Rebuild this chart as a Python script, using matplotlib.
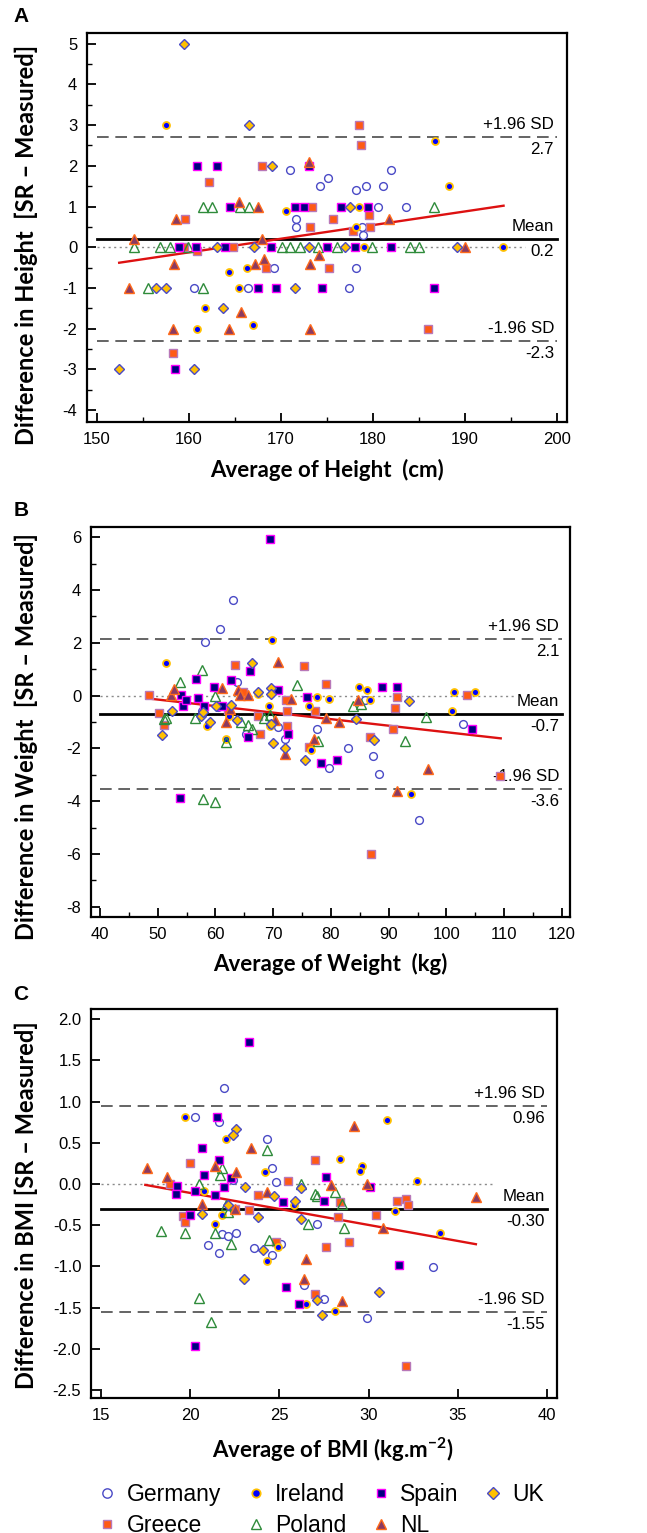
import matplotlib
matplotlib.use('Agg')
import matplotlib.pyplot as plt
import numpy as np
from matplotlib.lines import Line2D

plt.rcParams['font.family'] = ['Liberation Sans', 'DejaVu Sans']
plt.rcParams['mathtext.fontset'] = 'custom'
plt.rcParams['mathtext.rm'] = 'Lato:bold'
plt.rcParams['mathtext.bf'] = 'Lato:bold'

# Panel A : height (avg, diff)
germany_A = [(171.0, 1.9), (174.2, 1.5), (175.1, 1.7), (178.2, 1.4), (179.2, 1.5), (181.1, 1.5), (182.0, 1.9),
             (171.6, 0.7), (171.6, 0.5), (178.8, 0.5), (178.9, 0.3), (180.5, 1.0), (183.6, 1.0), (169.2, -0.5),
             (178.2, -0.5), (166.4, -1.0), (160.5, -1.0), (177.4, -1.0)]
greece_A = [(178.5, 3.0), (178.7, 2.5), (167.9, 2.0), (162.2, 1.6), (159.6, 0.7), (173.4, 1.0), (175.6, 0.7),
            (173.2, 0.5), (179.6, 0.8), (179.7, 0.5), (177.8, 0.4), (164.8, 0.0), (160.9, -0.1), (159.4, 0.0),
            (168.4, -0.5), (175.2, -0.5), (158.3, -2.6), (186.0, -2.0)]
ireland_A = [(157.5, 3.0), (186.7, 2.6), (188.3, 1.5), (170.5, 0.9), (178.5, 1.0), (178.2, 0.5), (179.0, 0.0),
             (194.1, 0.0), (164.3, -0.6), (166.3, -0.5), (165.4, -1.0), (161.7, -1.5), (160.9, -2.0), (166.9, -1.9)]
poland_A = [(161.5, 1.0), (162.5, 1.0), (165.5, 1.0), (166.5, 1.0), (186.6, 1.0), (154.0, 0.0), (156.8, 0.0),
            (157.9, 0.0), (159.9, 0.0), (170.1, 0.0), (171.0, 0.0), (172.1, 0.0), (174.0, 0.0), (176.1, 0.0),
            (179.9, 0.0), (184.0, 0.0), (185.0, 0.0), (155.5, -1.0), (161.5, -1.0)]
spain_A = [(160.9, 2.0), (163.0, 2.0), (173.0, 2.0), (164.5, 1.0), (171.5, 1.0), (172.5, 1.0), (176.5, 1.0),
           (179.5, 1.0), (158.9, 0.0), (160.8, 0.0), (163.9, 0.0), (168.9, 0.0), (175.0, 0.0), (178.0, 0.0),
           (182.0, 0.0), (158.5, -3.0), (167.5, -1.0), (169.5, -1.0), (174.5, -1.0), (186.6, -1.0)]
nl_A = [(158.6, 0.7), (165.4, 1.1), (167.5, 1.0), (173.0, 2.1), (167.9, 0.2), (154.0, 0.2), (181.7, 0.7),
        (190.0, 0.0), (158.4, -0.4), (167.2, -0.4), (168.1, -0.3), (173.2, -0.4), (174.1, -0.2), (153.5, -1.0),
        (165.7, -1.6), (158.3, -2.0), (164.3, -2.0), (173.2, -2.0)]
uk_A = [(159.5, 5.0), (166.5, 3.0), (169.0, 2.0), (177.5, 1.0), (163.0, 0.0), (167.1, 0.0), (173.0, 0.0),
        (177.0, 0.0), (189.1, 0.0), (156.4, -1.0), (157.5, -1.0), (171.5, -1.0), (163.7, -1.5), (152.4, -3.0),
        (160.5, -3.0)]
stats_A = [0.2, 2.7, -2.3]          # mean, +1.96 SD, -1.96 SD
text_A = ['0.2', '2.7', '-2.3']
reg_A = [(152.4, -0.38), (194.2, 1.02)]

# Panel B : weight
germany_B = [(63.1, 3.61), (60.8, 2.53), (58.1, 2.02), (57.6, -0.59), (63.8, 0.52), (65.2, -1.45), (70.9, -1.19),
             (72.1, -1.66), (77.6, -1.26), (79.7, -2.76), (82.9, -1.98), (85.9, -0.18), (87.3, -2.27), (88.4, -2.96),
             (102.9, -1.06), (95.2, -4.7), (60.5, -0.45)]
greece_B = [(48.5, 0.04), (50.3, -0.67), (51.0, -1.1), (63.4, 1.15), (64.8, 0.13), (62.2, -0.53), (67.7, -1.44),
            (67.4, -0.78), (72.2, -0.18), (72.4, -0.57), (72.3, -1.16), (75.4, 1.11), (77.2, -0.57), (76.2, -1.95),
            (79.1, 0.44), (86.7, -1.58), (91.5, -0.06), (91.1, -0.47), (90.8, -1.26), (103.5, 0.04), (109.2, -3.05),
            (86.9, -6.01)]
ireland_B = [(51.5, 1.22), (69.8, 2.1), (58.6, -1.16), (61.9, -1.64), (62.3, -0.76), (67.3, 0.05), (69.3, -0.38),
             (69.4, -1.16), (76.2, -0.38), (76.5, -2.07), (77.6, -0.06), (79.6, -0.13), (84.8, 0.32), (86.2, 0.23),
             (86.8, -0.18), (101.0, -0.59), (101.3, 0.13), (104.9, 0.13), (93.8, -3.72)]
poland_B = [(51.0, -0.9), (51.4, -0.85), (53.8, 0.52), (56.4, -0.84), (57.6, 0.98), (60.0, 0.0), (61.9, -1.75),
            (64.4, -1.0), (65.7, -1.11), (66.4, -1.26), (68.4, -0.84), (69.4, -0.72), (74.2, 0.42), (77.8, -1.73),
            (83.9, -0.4), (85.2, -0.32), (92.8, -1.73), (96.4, -0.82), (57.9, -3.91), (60.0, -4.04)]
spain_B = [(69.4, 5.93), (66.0, 0.95), (54.0, 0.04), (54.3, -0.38), (54.9, -0.18), (56.7, 0.63), (56.9, -0.09),
           (58.0, -0.4), (59.7, 0.32), (61.2, -0.38), (62.7, 0.61), (65.7, -1.56), (70.8, 0.23), (72.6, -1.45),
           (75.9, -0.06), (78.3, -2.55), (81.1, -2.45), (88.8, 0.32), (91.5, 0.32), (104.5, -1.26), (53.8, -3.87)]
nl_B = [(52.3, 0.01), (52.9, 0.25), (61.2, 0.29), (61.9, -1.0), (62.5, -0.5), (63.9, 0.2), (64.2, 0.01),
        (65.6, 0.01), (70.9, 1.27), (70.3, -0.91), (73.0, -0.13), (72.0, -2.23), (77.0, -1.66), (79.2, -0.84),
        (81.4, -1.01), (84.6, -0.18), (96.8, -2.77), (91.5, -3.62)]
uk_B = [(50.8, -1.48), (52.5, -0.57), (57.5, -0.76), (57.8, -0.63), (59.0, -1.0), (60.1, -0.38), (62.7, -0.34),
        (63.8, -0.91), (66.4, 1.22), (67.3, 0.13), (69.7, 0.29), (69.7, 0.08), (69.7, -1.06), (69.9, -1.79),
        (72.0, -1.98), (75.5, -2.45), (84.3, -0.88), (87.5, -1.69), (93.5, -0.19)]
stats_B = [-0.71, 2.14, -3.55]
text_B = ['-0.7', '2.1', '-3.6']
reg_B = [(48.4, -0.11), (109.4, -1.62)]

# Panel C : BMI
germany_C = [(21.9, 1.17), (20.3, 0.81), (21.6, 0.75), (24.3, 0.55), (24.6, 0.19), (24.8, 0.02), (22.4, 0.05),
             (27.1, -0.49), (21.8, -0.61), (22.1, -0.63), (22.6, -0.6), (21.0, -0.74), (21.6, -0.84), (23.6, -0.78),
             (25.1, -0.73), (24.6, -0.86), (33.6, -1.01), (26.4, -1.23), (27.5, -1.39), (29.9, -1.62)]
greece_C = [(20.0, 0.25), (27.0, 0.29), (18.9, 0.0), (25.5, 0.04), (28.4, -0.22), (31.6, -0.21), (32.1, -0.18),
            (32.2, -0.26), (19.6, -0.39), (19.7, -0.46), (22.5, -0.3), (23.3, -0.31), (23.8, -0.13), (28.3, -0.4),
            (30.4, -0.38), (24.8, -0.7), (27.6, -0.77), (28.9, -0.7), (27.0, -1.34), (32.1, -2.21)]
ireland_C = [(19.7, 0.82), (22.0, 0.55), (28.4, 0.31), (29.6, 0.22), (29.5, 0.16), (24.2, 0.15), (31.0, 0.78),
             (32.7, 0.04), (20.8, -0.08), (21.4, -0.13), (25.8, -0.26), (31.5, -0.33), (21.8, -0.37), (34.0, -0.59),
             (21.4, -0.49), (24.9, -0.76), (24.3, -0.93), (26.5, -1.46), (28.1, -1.54)]
poland_C = [(24.3, 0.41), (21.8, 0.2), (21.7, 0.11), (20.5, 0.0), (26.2, 0.0), (27.0, -0.12), (28.1, -0.1),
            (28.5, -0.24), (22.1, -0.34), (26.6, -0.49), (28.6, -0.53), (18.4, -0.57), (19.7, -0.59), (21.4, -0.6),
            (22.3, -0.73), (24.4, -0.68), (20.5, -1.38), (21.2, -1.68), (22.0, -0.25), (27.1, -0.14)]
spain_C = [(23.3, 1.72), (21.5, 0.82), (20.7, 0.44), (21.6, 0.29), (20.8, 0.11), (19.3, -0.02), (19.2, -0.12),
           (20.3, -0.08), (21.4, -0.13), (21.9, -0.03), (22.3, 0.07), (25.2, -0.22), (27.6, 0.09), (30.1, -0.04),
           (27.5, -0.21), (20.0, -0.38), (31.7, -0.98), (25.4, -1.25), (26.1, -1.45), (20.3, -1.96)]
nl_C = [(23.4, 0.44), (29.2, 0.7), (21.4, 0.22), (22.6, 0.15), (17.6, 0.2), (18.7, 0.09), (27.9, -0.01),
        (29.9, 0.0), (36.0, -0.16), (20.7, -0.24), (22.5, -0.3), (24.3, -0.1), (30.8, -0.53), (26.5, -0.91),
        (26.4, -1.15), (28.5, -1.42)]
uk_C = [(22.6, 0.67), (22.4, 0.6), (23.1, -0.03), (26.2, -0.05), (24.7, -0.15), (25.9, -0.2), (20.7, -0.36),
        (23.8, -0.4), (26.2, -0.42), (24.1, -0.8), (23.0, -1.15), (30.6, -1.31), (27.1, -1.41), (27.4, -1.59),
        (22.1, -0.25)]
stats_C = [-0.30, 0.95, -1.55]
text_C = ['-0.30', '0.96', '-1.55']
reg_C = [(17.5, -0.01), (36.0, -0.73)]

countries = ['Germany', 'Greece', 'Ireland', 'Poland', 'Spain', 'NL', 'UK']
# marker, face, edge, size, edge width
style = {
    'Germany': ('o', 'white', '#4a4ac6', 5.6, 1.0),
    'Greece': ('s', '#ff5a14', '#b878b8', 5.2, 1.0),
    'Ireland': ('o', '#0000ff', '#ffc000', 5.0, 1.3),
    'Poland': ('^', 'none', '#2e8b3a', 6.6, 1.0),
    'Spain': ('s', '#000080', '#ff00ff', 5.2, 1.0),
    'NL': ('^', '#8b3a62', '#ff6a1a', 6.6, 1.0),
    'UK': ('D', '#ffc000', '#4a4ac6', 4.8, 1.0),
}

fig = plt.figure(figsize=(6.47, 15.33), dpi=100)


def draw_panel(rect, groups, stats, texts, reg, zero_end, xr, xlim, ylim, yticks, ymin, xmin, yfmt):
    ax = fig.add_axes(rect)
    x0, x1, xstep = xr
    ax.plot([x0, zero_end], [0, 0], color='#8a8a8a', lw=1.0, dashes=(1.5, 2.5), zorder=1)
    mean, hi, lo = stats
    for v in (hi, lo):
        ax.plot([x0, x1], [v, v], color='#4a4a4a', lw=1.2, dashes=(7, 4), zorder=3)
    ax.plot([x0, x1], [mean, mean], color='black', lw=2.0, zorder=3)
    ax.plot([p[0] for p in reg], [p[1] for p in reg], color='#dd1111', lw=1.7, zorder=3)
    bb = dict(fc='white', ec='none', pad=0.6)
    for lab, val, off, va in [('+1.96 SD', hi, 3.5, 'bottom'), (texts[1], hi, -3.5, 'top'),
                              ('Mean', mean, 3.5, 'bottom'), (texts[0], mean, -3.5, 'top'),
                              ('-1.96 SD', lo, 3.5, 'bottom'), (texts[2], lo, -3.5, 'top')]:
        ax.annotate(lab, xy=(x1, val), xytext=(-2, off), textcoords='offset points', ha='right', va=va,
                    fontsize=12.2, bbox=bb, zorder=2)
    for c, pts in zip(countries, groups):
        m, fc, ec, ms, mew = style[c]
        ax.plot([p[0] for p in pts], [p[1] for p in pts], ls='none', marker=m, mfc=fc, mec=ec, ms=ms,
                mew=mew, zorder=4)
    ax.set_xlim(xlim)
    ax.set_ylim(ylim)
    ax.set_xticks(np.arange(x0, x1 + 0.01, xstep))
    if xmin:
        ax.set_xticks(np.arange(x0, x1 + 0.01, xmin), minor=True)
    ax.set_yticks(yticks)
    if ymin:
        ax.set_yticks(np.arange(yticks[0], yticks[-1] + 0.01, ymin), minor=True)
    ax.set_yticklabels([yfmt % t for t in yticks])
    ax.tick_params(which='major', direction='in', length=6.5, width=1.3, labelsize=12, pad=7)
    ax.tick_params(which='minor', direction='in', length=3.5, width=1.0)
    for s in ax.spines.values():
        s.set_linewidth(1.6)
    return ax


draw_panel([87 / 647, 1 - 422 / 1533, 480 / 647, 389 / 1533],
           [germany_A, greece_A, ireland_A, poland_A, spain_A, nl_A, uk_A], stats_A, text_A, reg_A, 196.5,
           (150, 200, 10), (148.9, 201.1), (-4.29, 5.26), np.arange(-4, 5.01, 1), 0.5, 5, '%d')
draw_panel([91 / 647, 1 - 917 / 1533, 479 / 647, 390 / 1533],
           [germany_B, greece_B, ireland_B, poland_B, spain_B, nl_B, uk_B], stats_B, text_B, reg_B, 113,
           (40, 120, 10), (38.44, 121.4), (-8.39, 6.39), np.arange(-8, 6.01, 2), 1, 5, '%d')
draw_panel([91 / 647, 1 - 1398 / 1533, 466 / 647, 389 / 1533],
           [germany_C, greece_C, ireland_C, poland_C, spain_C, nl_C, uk_C], stats_C, text_C, reg_C, 37,
           (15, 40, 5), (14.46, 40.54), (-2.597, 2.125), np.arange(-2.5, 2.01, 0.5), None, None, '%.1f')

ylab_font = dict(family=['Lato', 'DejaVu Sans'], fontweight='bold', fontsize=17)
xlab_font = dict(family=['Lato', 'DejaVu Sans'], fontweight='bold', fontsize=16)
fig.text(26 / 647, 1 - 245 / 1533, 'Difference in Height  [SR \u2013 Measured]', rotation=90,
         ha='center', va='center', **ylab_font)
fig.text(26 / 647, 1 - 737 / 1533, 'Difference in Weight  [SR \u2013 Measured]', rotation=90,
         ha='center', va='center', **ylab_font)
fig.text(26 / 647, 1 - 1205 / 1533, 'Difference in BMI [SR \u2013 Measured]', rotation=90,
         ha='center', va='center', **ylab_font)
fig.text(327 / 647, 1 - 470 / 1533, 'Average of Height  (cm)', ha='center', va='center', **xlab_font)
fig.text(330 / 647, 1 - 964 / 1533, 'Average of Weight  (kg)', ha='center', va='center', **xlab_font)
fig.text(333 / 647, 1 - 1450 / 1533, 'Average of BMI (kg.m$^{\\mathrm{-2}}$)', ha='center', va='center',
         **xlab_font)

for letter, ypx in [('A', 16), ('B', 510), ('C', 995)]:
    fig.text(21 / 647, 1 - ypx / 1533, letter, ha='center', va='center', fontsize=15, fontweight='bold')

handles = []
for c in countries:
    m, fc, ec, ms, mew = style[c]
    handles.append(Line2D([], [], ls='none', marker=m, mfc=fc, mec=ec, ms=ms * 1.2, mew=mew))
fig.legend(handles, countries, loc='upper left', bbox_to_anchor=(89 / 647, 1 - 1474 / 1533), ncol=4,
           frameon=False, fontsize=16.5, handlelength=0.8, handletextpad=0.45, columnspacing=1.1,
           labelspacing=0.35, borderpad=0.4, borderaxespad=0)

fig.savefig('out.png', dpi=100)
